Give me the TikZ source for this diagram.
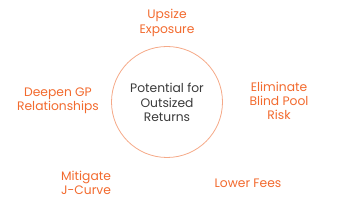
\documentclass[tikz,border=0pt]{standalone}
\usepackage{fontspec}
\setmainfont{Poppins}
\definecolor{accent}{HTML}{F26A2E}
\definecolor{ring}{HTML}{F5A988}
\definecolor{core}{HTML}{3A3A3A}
\tikzset{
  label/.style={text=accent, align=center, font=\fontsize{12.3}{14.3}\selectfont},
  hub/.style={circle, draw=ring, line width=0.8pt, minimum size=111pt},
}
\begin{document}
\begin{tikzpicture}[x=1pt, y=1pt]
  \useasboundingbox (0,0) rectangle (337,211);
  % Central circle
  \node[hub] (hub) at (167,109) {};
  \node[align=center, text=core, font=\fontsize{12.3}{14.3}\selectfont] (core) at (167,108.5) {Potential for\\Outsized\\Returns};
  % Surrounding benefits
  \node[label] (upsize) at (167,188) {Upsize\\Exposure};
  \node[label] (deepen) at (58,110) {Deepen GP\\Relationships};
  \node[label] (blind) at (279,110) {Eliminate\\Blind Pool\\Risk};
  \node[label] (jcurve) at (86,28) {Mitigate\\J-Curve};
  \node[label] (fees) at (248,28) {Lower Fees};
\end{tikzpicture}
\end{document}
